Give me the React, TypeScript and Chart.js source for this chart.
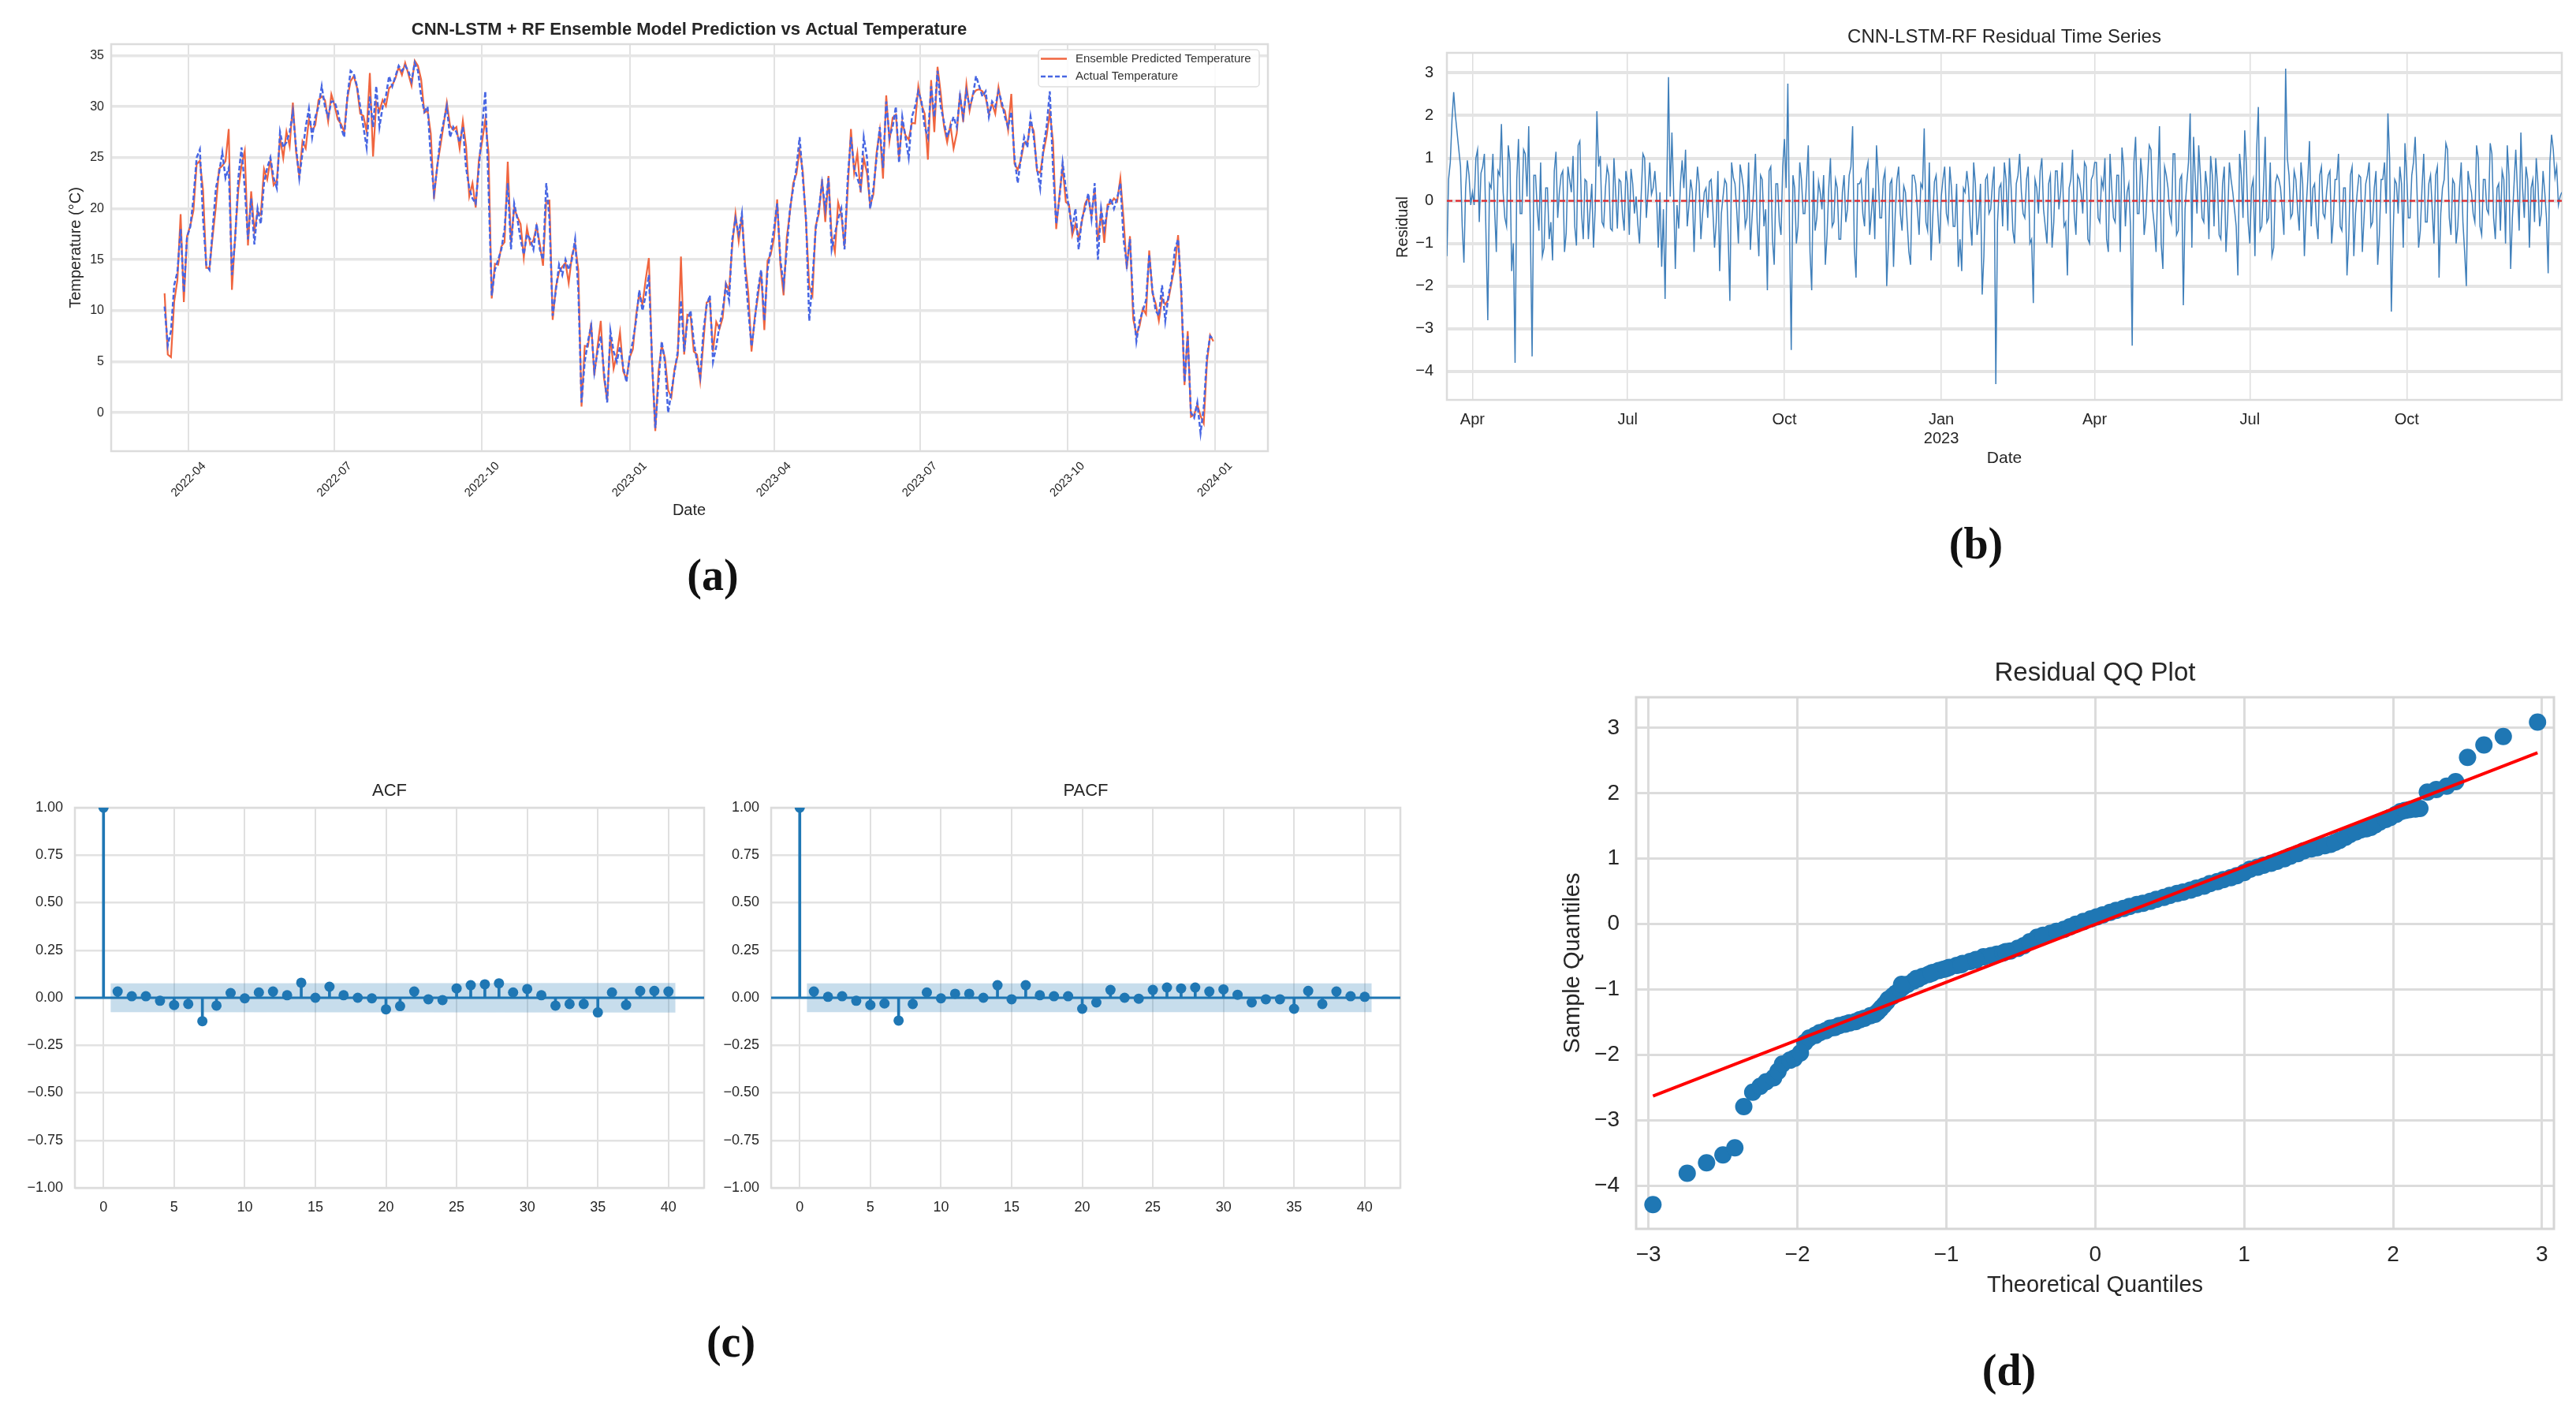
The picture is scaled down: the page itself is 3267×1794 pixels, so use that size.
import React, { useEffect, useRef } from "react";
import { Chart, registerables } from "chart.js";

Chart.register(...registerables);

const FONT = '"Liberation Sans", Arial, Helvetica, sans-serif';
const SERIF = '"Liberation Serif", "Times New Roman", serif';
const INK = "#262626";

// ---------------- (a) + (b): series on even days (counted from 2022-04-01; first = 2022-03-17) ----------------
const SERIES_START_DAY = -15;
const SERIES_STEP_DAYS = 2;

const actualTemperature = [
  10.4, 6.6, 8.0, 12.5, 13.8, 18.0, 11.8, 17.2,
  18.2, 21.0, 25.0, 25.8, 19.0, 14.5, 14.0, 18.0, 22.0, 23.5, 25.5, 23.0, 24.0, 13.5, 17.0,
  23.0, 26.0, 22.0, 17.0, 21.0, 16.5, 20.0, 18.5, 22.5, 24.0, 25.0, 23.0, 22.0, 27.5, 26.0,
  26.5, 27.5, 29.5, 26.0, 23.0, 25.5, 28.0, 29.8, 27.0, 29.0, 30.0, 32.0, 30.0, 29.0, 30.5,
  30.5, 29.5, 28.0, 27.0, 31.0, 33.5, 33.2, 32.0, 30.0, 28.0, 26.0, 31.0, 28.0, 32.0, 28.0, 30.0,
  31.0, 33.0, 32.0, 33.0, 34.0, 33.5, 34.0, 33.5, 32.5, 34.3, 33.5, 31.0, 29.5, 30.0, 25.0,
  21.5, 24.0, 27.0, 28.5, 30.0, 27.0, 28.0, 27.5, 26.5, 28.0, 24.0, 22.0, 21.0, 20.5, 24.0,
  28.0, 31.5, 22.0, 11.5, 14.0, 15.0, 16.0, 18.0, 22.5, 16.0, 20.5, 19.0, 17.0, 15.5, 17.5, 17.0,
  16.0, 18.5, 16.0, 15.0, 22.5, 19.0, 9.5, 12.0, 14.5, 13.5, 15.0, 14.0, 15.0, 17.0, 12.0,
  1.0, 5.0, 7.0, 8.5, 4.0, 6.0, 7.5, 4.0, 1.0, 8.0, 6.0, 5.0, 6.5, 4.5, 3.0, 5.5,
  7.0, 9.0, 12.0, 10.0, 11.5, 13.5, 5.0, -1.5, 3.0, 7.0, 5.0, 0.0, 2.0, 4.0, 6.0,
  11.0, 6.0, 9.0, 10.0, 7.0, 5.0, 3.5, 8.0, 10.5, 11.5, 5.0, 6.5, 8.5, 10.0,
  12.5, 11.0, 17.0, 19.0, 17.5, 19.5, 14.0, 10.0, 6.5, 9.0, 12.0, 14.0, 9.0, 14.0, 16.0,
  18.0, 20.5, 15.0, 12.5, 16.0, 20.0, 22.0, 24.0, 27.0, 23.0, 19.0, 9.0, 13.0, 18.0, 20.0,
  22.5, 20.0, 23.0, 16.0, 17.5, 19.0, 20.0, 16.0, 23.0, 27.0, 24.0, 23.0, 22.0, 27.0, 25.0,
  20.0, 22.0, 25.0, 28.0, 24.0, 30.5, 27.0, 28.0, 30.0, 24.5, 29.0, 27.0, 25.0, 29.0, 30.0,
  31.5, 30.5, 28.0, 27.0, 32.0, 29.0, 33.5, 30.0, 28.5, 27.0, 28.0, 29.0, 28.0, 31.0, 29.0, 31.5,
  30.0, 31.0, 33.0, 32.0, 31.0, 31.5, 29.0, 30.5, 30.0, 31.5, 30.5, 29.0, 28.0, 29.5, 25.0,
  22.5, 25.0, 27.0, 26.0, 29.0, 27.0, 24.0, 22.0, 26.0, 28.0, 31.5, 24.0, 18.5, 21.0, 24.5,
  22.0, 20.0, 18.0, 20.0, 16.0, 19.0, 20.0, 21.5, 19.0, 22.5, 15.0, 20.0, 18.0, 20.0, 21.0, 20.0,
  21.0, 22.5, 17.0, 14.5, 17.0, 10.5, 7.0, 9.0, 10.0, 11.0, 15.5, 12.0, 10.0, 9.5, 12.5,
  9.0, 11.5, 13.0, 16.0, 17.0, 12.0, 3.0, 7.5, 0.0, -0.5, 1.0, -2.0, 0.5, 5.5, 7.5, 7.2,
];

// residuals (actual - predicted) on the same even days
const residuals = [
  -1.3, 0.9, 2.55, 1.6, 0.8, -1.45, 0.95, -0.1,
  -0.1, 1.2, 0.65, 1.1, -2.8, 0.3, -0.2, 0.7, 1.8, -0.4, 1.3, -1.65, -3.8, 1.45, -0.3,
  1.1, 1.75, -3.65, 0.6, -0.7, -1.3, 0.3, -0.9, -1.4, 1.15, 0.2, 0.7, -0.75, 0.5, 1.05,
  -1.05, 1.4, -0.9, 0.45, -0.2, -1.1, 2.1, 1.05, -0.6, 0.8, -0.65, 1.0, -0.65, 0.45, -0.7,
  0.4, 0.75, -0.3, -0.55, 0.15, 1.0, 0.2, 0.15, 0.7, -1.1, -1.55, -2.3, 2.9, 1.6, -1.6, -0.65,
  0.95, 1.2, -0.1, 0.2, 0.1, 0.4, -0.3, 0.3, 0.45, -0.2, -0.5, -1.65, 0.1, 0.4, -2.35,
  0.55, -0.2, 0.85, 0.3, -0.4, -1.15, 0.3, -0.5, 0.6, -0.6, -2.1, 0.8, -1.5, 0.4, -0.8,
  1.45, 2.75, -3.5, 0.3, -0.6, 0.5, -0.3, 1.3, -2.1, -0.7, 0.45, -0.2, -1.5, 0.3, -0.6, 0.5,
  -0.9, 0.2, -0.5, 0.6, 1.75, -1.8, 0.4, -0.3, 0.7, -0.8, 0.3, 1.3, -0.4, 0.5, -2.0,
  0.4, -1.55, 0.5, -0.3, 0.35, -0.5, -1.5, 0.6, -0.2, 0.4, 1.7, -0.7, -1.4, 0.45, -0.3, 0.1,
  0.8, -0.5, 0.3, -0.6, -1.55, -1.65, 0.2, 0.3, -1.05, 0.4, -0.4, -2.2, 0.5, -0.3, 0.4,
  -4.3, 0.3, -0.6, 0.5, 1.0, -0.7, 0.4, 1.1, -0.3, 0.5, -1.0, -2.4, 0.3, 0.7,
  -0.2, -1.0, 0.6, -0.5, 0.7, 0.2, -0.6, -1.75, 0.5, -0.3, 0.6, 0.2, 0.9, -0.9, 0.5,
  0.9, -0.4, 0.5, 1.0, -1.2, 0.3, -0.5, 0.6, 1.25, -0.6, 0.4, -3.4, 1.5, -0.3, 0.5,
  -0.4, 1.3, -0.2, -1.2, 1.75, -1.6, 0.6, -0.3, 1.1, -0.8, 0.5, -2.45, 0.4, 2.05, 1.5,
  -0.3, 0.6, -0.5, 0.3, 1.05, -0.6, 0.4, -0.9, 0.8, -0.4, 0.5, -0.2, -1.75, 0.6, 1.65,
  -0.5, 0.3, -1.3, 2.2, -0.6, 1.5, -0.4, -1.3, 0.4, 0.5, -0.2, 3.1, 0.6, -0.3, 0.5, -0.7,
  0.4, -0.2, 1.4, 0.3, -0.5, 0.6, -0.3, 0.2, 0.7, -0.4, 0.5, -0.6, 0.3, -1.75, 0.6,
  -1.3, 0.2, 0.55, -0.4, 0.6, -0.6, 0.3, -1.5, 0.5, 0.9, 2.05, -2.6, 0.5, -0.3, 0.4,
  1.35, -0.4, 0.6, 1.5, -1.1, 0.3, -0.5, 0.4, -0.2, 0.6, -1.8, 0.3, 1.35, -0.4, 0.5, -1.0,
  0.3, -0.5, -2.0, 0.4, -0.3, 1.3, -0.6, 0.5, -0.2, 1.35, -0.4, 0.3, -0.7, 0.5, 1.3,
  -1.6, 0.4, 0.2, 1.6, -0.4, 0.5, 0.3, -0.5, 0.4, -0.3, 0.2, -1.7, 1.55, 0.55, -0.1, 0.2,
];

// residuals on the odd days in between (first = day -14, i.e. 2022-03-18)
const residualsOddDays = [
  0.5, 1.9, 2.0, 1.2, -0.6, 0.3, 0.6, 0.2, 1.0, -0.5, 0.8, -0.9, 0.4, 1.1, -1.2, 0.6,
  0.2, -0.6, 0.9, -1.0, 0.5, -0.3, 1.2, 0.1, -0.8, 0.6, -0.2, 0.9, -1.1, 0.3, -0.5, 0.7,
  -0.4, 0.6, -1.2, 0.8, 0.2, -0.6, 1.3, -0.3, 0.5, -0.9, 0.4, -0.2, 0.8, -0.5, 0.3, 0.6,
  -0.7, 0.2, 0.5, -0.3, 0.7, -0.8, 0.4, 0.1, -1.0, 1.1, -0.4, 0.9, 0.3, 0.1, 0.2, -0.2,
  0.3, 0.1, 0.2, -0.1, 0.4, 0.3, -0.6, 0.5, -1.2, 0.8, -0.9, 0.2, -0.4, 0.5, -1.1, 0.7,
  -0.3, 0.5, -0.8, 0.9, 0.4, -1.0, 0.6, -0.6, 0.9, -0.4, 1.1, -1.3, 0.5, -0.2, 0.7, -0.9,
  0.4, -0.5, 0.8, 0.3, -0.7, 0.6, -1.0, 0.9, -0.3, 0.5, -1.2, 0.7, -0.4, 0.2, 0.6, -0.8,
  1.0, -0.5, 0.3, -0.9, 0.6, -0.2, 0.8, -1.1, 0.4, 0.5, -0.6, 0.9, -0.3, -0.9, 0.6, -0.4,
  0.7, -1.0, 0.5, -0.3, 0.8, -0.7, 0.2, -1.2, 0.6, 0.4, -0.8, 0.3, -0.5, 0.9, -0.4, 0.6,
  -1.0, 0.5, -0.3, 0.8, -0.6, 0.4, -0.9, 0.3, 0.7, -0.5, 0.9, -0.8, 0.4, -1.3, 0.6, -0.2,
  0.8, -0.5, 0.4, 0.9, -0.7, 0.3, -1.0, 0.6, 0.2, -0.4, 0.8, -0.9, 0.5, -0.3, 1.0, -0.6,
  0.4, -1.1, 0.7, -0.2, 0.9, -0.5, 0.3, 1.2, -0.8, 0.5, -0.3, 0.8, -1.0, 0.6, 0.9, -0.5,
  0.3, -0.9, 1.1, -0.4, 0.6, -1.2, 0.8, 0.2, -0.6, 0.9, -0.3, 1.0, -0.8, 0.5, 1.2, -0.6,
  0.4, -1.0, 0.8, 0.3, -0.5, 1.1, -0.7, 0.6, -0.2, 0.9, -1.1, 0.5, 1.3, -0.4, 0.7, -0.9,
  0.6, 1.0, -0.8, 0.4, -1.2, 0.9, 0.2, -0.6, 1.1, -0.4, 0.8, -1.0, 0.5, 1.2, -0.7, 0.3,
  -0.5, 0.9, -1.1, 0.6, 0.3, -0.8, 1.0, -0.4, 0.7, -0.2, 0.9, -1.3, 0.5, -0.6, 0.4, -0.9,
  0.8, -0.4, 0.6, -1.0, 0.5, 1.1, -0.7, 0.3, -0.9, 0.8, -0.3, 0.6, -1.2, 0.4, 0.9, -0.5,
  0.7, -0.8, 0.5, -0.3, 1.0, -0.9, 0.4, 0.8, -1.1, 0.6, -0.4, 0.9, 0.3, -0.7, 1.1, -0.5,
  0.6, -1.0, 0.8, -0.3, 0.5, 1.2, -0.8, 0.4, -0.6, 0.9, -1.2, 0.7, 0.2, -0.5, 1.0, -0.8,
  0.5, -0.3, 1.1, -0.9, 0.4, 0.7, -1.0, 0.6, -0.4, 1.2, -0.7, 0.3, 0.8, -1.1, 0.5, 1.0,
  -0.6, 0.7, -0.4, 0.9, 1.2, 0.8, 0.1,
];

const tempTickDays = [0, 91, 183, 275, 365, 456, 548, 640];
const tempTickLabels = ["2022-04", "2022-07", "2022-10", "2023-01", "2023-04", "2023-07", "2023-10", "2024-01"];
const tempYTicks = [0, 5, 10, 15, 20, 25, 30, 35];

const residTickDays = [0, 91, 183, 275, 365, 456, 548];
const residTickLabels: (string | string[])[] = ["Apr", "Jul", "Oct", ["Jan", "2023"], "Apr", "Jul", "Oct"];
const residYTicks = [-4, -3, -2, -1, 0, 1, 2, 3];

// ---------------- (c) ACF / PACF ----------------
const lags = [0, 1, 2, 3, 4, 5, 6, 7, 8, 9, 10, 11, 12, 13, 14, 15, 16, 17, 18, 19, 20, 21, 22, 23, 24, 25, 26, 27, 28, 29, 30, 31, 32, 33, 34, 35, 36, 37, 38, 39, 40];
const acfValues = [
  1.0, 0.033, 0.008, 0.008, -0.016, -0.038, -0.033, -0.123, -0.041, 0.025, -0.003,
  0.028, 0.033, 0.013, 0.079, 0.0, 0.058, 0.013, 0.0, -0.003, -0.061,
  -0.044, 0.033, -0.008, -0.012, 0.049, 0.066, 0.071, 0.076, 0.028, 0.046,
  0.013, -0.041, -0.033, -0.033, -0.077, 0.028, -0.038, 0.036, 0.036, 0.033,
];
const pacfValues = [
  1.0, 0.033, 0.005, 0.008, -0.016, -0.038, -0.030, -0.120, -0.033, 0.028, -0.003,
  0.021, 0.021, 0.0, 0.066, -0.008, 0.066, 0.013, 0.008, 0.008, -0.058,
  -0.025, 0.041, 0.0, -0.005, 0.041, 0.054, 0.049, 0.054, 0.033, 0.044,
  0.016, -0.025, -0.008, -0.008, -0.058, 0.036, -0.033, 0.033, 0.008, 0.005,
];
const confLags = [0.5, 40.5];
const acfConfidence = [0.076, 0.078];
const pacfConfidence = [0.076, 0.076];
const corrXTicks = [0, 5, 10, 15, 20, 25, 30, 35, 40];
const corrYTicks = [-1, -0.75, -0.5, -0.25, 0, 0.25, 0.5, 0.75, 1];

// ---------------- (d) QQ plot ----------------
const qqTheoretical = [
  -2.97, -2.74, -2.61, -2.5, -2.42, -2.36, -2.3, -2.25, -2.21, -2.16, -2.13, -2.1, -2.05, -2.02, -1.98, -1.95,
  -1.92, -1.85, -1.78, -1.72, -1.65, -1.58, -1.51, -1.46, -1.42, -1.39, -1.34, -1.29, -1.22, -1.16, -1.09, -1.02,
  -0.93, -0.84, -0.75, -0.66, -0.57, -0.48, -0.39, -0.3, -0.21, -0.13, -0.03, 0.05, 0.14, 0.23, 0.32, 0.41,
  0.5, 0.59, 0.68, 0.77, 0.86, 0.95, 1.04, 1.13, 1.22, 1.31, 1.4, 1.49, 1.58, 1.64, 1.71, 1.78,
  1.85, 1.91, 1.98, 2.05, 2.11, 2.18, 2.23, 2.29, 2.36, 2.42, 2.5, 2.61, 2.74, 2.97,
  -1.88, -1.81, -1.75, -1.68, -1.61, -1.55, -1.48, -1.44, -1.4, -1.36, -1.31, -1.26, -1.19, -1.12, -1.05, -0.98,
  -0.89, -0.8, -0.7, -0.62, -0.52, -0.44, -0.35, -0.26, -0.17, -0.08, 0.01, 0.1, 0.19, 0.28, 0.37, 0.46,
  0.55, 0.64, 0.73, 0.82, 0.91, 1.0, 1.09, 1.18, 1.27, 1.36, 1.45, 1.54, 1.61, 1.68, 1.75, 1.82,
  1.88, 1.95, 2.02, 2.08, 2.15,
  -1.3, -1.2, -1.1, -1.0, -0.9, -0.8, -0.6,
];
const qqSample = [
  -4.29, -3.81, -3.65, -3.53, -3.42, -2.79, -2.57, -2.48, -2.41, -2.35, -2.25, -2.14, -2.08, -2.05, -1.97, -1.81,
  -1.74, -1.66, -1.59, -1.55, -1.51, -1.46, -1.4, -1.34, -1.24, -1.15, -1.06, -0.96, -0.87, -0.8, -0.74, -0.69,
  -0.63, -0.57, -0.5, -0.46, -0.41, -0.33, -0.2, -0.14, -0.08, 0.0, 0.08, 0.14, 0.21, 0.27, 0.32, 0.38,
  0.44, 0.49, 0.55, 0.62, 0.68, 0.74, 0.84, 0.9, 0.96, 1.04, 1.12, 1.17, 1.22, 1.28, 1.37, 1.44,
  1.48, 1.56, 1.63, 1.72, 1.75, 1.77, 2.02, 2.06, 2.11, 2.18, 2.55, 2.74, 2.87, 3.09,
  -1.7, -1.63, -1.58, -1.53, -1.49, -1.44, -1.38, -1.29, -1.19, -1.1, -1.0, -0.92, -0.84, -0.77, -0.71, -0.66,
  -0.6, -0.54, -0.48, -0.44, -0.37, -0.27, -0.17, -0.11, -0.04, 0.04, 0.11, 0.18, 0.24, 0.3, 0.35, 0.41,
  0.47, 0.52, 0.58, 0.65, 0.71, 0.79, 0.87, 0.93, 1.0, 1.08, 1.15, 1.2, 1.25, 1.33, 1.41, 1.46,
  1.52, 1.6, 1.68, 1.74, 1.76,
  -0.92, -0.83, -0.75, -0.68, -0.62, -0.55, -0.42,
];
const qqLineX = [-2.97, 2.97];
const qqLineY = [-2.63, 2.62];
const qqXTicks = [-3, -2, -1, 0, 1, 2, 3];
const qqYTicks = [-4, -3, -2, -1, 0, 1, 2, 3];

// ---------------- derived tables ----------------
const seriesDays = actualTemperature.map((_, i) => SERIES_START_DAY + i * SERIES_STEP_DAYS);
const predictedTemperature = actualTemperature.map((v, i) => Math.round((v - residuals[i]) * 100) / 100);
const dailyResiduals: { x: number; y: number }[] = [];
seriesDays.forEach((d, i) => {
  dailyResiduals.push({ x: d, y: residuals[i] });
  if (i < residualsOddDays.length) dailyResiduals.push({ x: d + 1, y: residualsOddDays[i] });
});

const minus = (s: string) => s.replace("-", "\u2212");

// ---------------- geometry (page pixels) ----------------
type Geom = { left: number; top: number; width: number; height: number; l: number; t: number; r: number; b: number };
const GA: Geom = { left: 50, top: 0, width: 1620, height: 720, l: 141, t: 56, r: 1608, b: 572 };
const GB: Geom = { left: 1740, top: 0, width: 1527, height: 620, l: 1835, t: 67, r: 3249, b: 507 };
const GC: Geom = { left: 0, top: 960, width: 910, height: 620, l: 95, t: 1024, r: 893, b: 1506 };
const GP: Geom = { left: 910, top: 960, width: 890, height: 620, l: 978, t: 1024, r: 1776, b: 1506 };
const GD: Geom = { left: 1940, top: 810, width: 1327, height: 850, l: 2075, t: 884, r: 3239, b: 1558 };

const layoutFor = (g: Geom) => ({ padding: { left: 0, top: g.t - g.top, right: g.left + g.width - g.r, bottom: 0 } });
const yFit = (g: Geom) => (s: any) => { s.width = g.l - g.left; };
const xFit = (g: Geom) => (s: any) => { s.height = g.top + g.height - g.b; };
const fixTicks = (vals: number[]) => (s: any) => { s.ticks = vals.map((v) => ({ value: v })); };

type TextItem = { text: string; x: number; y: number; size: number; weight?: string; rotate?: number; color?: string };

function overlay(g: Geom, texts: TextItem[], frame: { color: string; width: number }, extra?: { before?: (c: any) => void; after?: (c: any) => void }) {
  return {
    id: "overlay",
    beforeDatasetsDraw(chart: any) {
      const { ctx, chartArea: a } = chart;
      ctx.save();
      ctx.strokeStyle = frame.color;
      ctx.lineWidth = frame.width;
      ctx.strokeRect(a.left, a.top, a.right - a.left, a.bottom - a.top);
      ctx.restore();
      if (extra && extra.before) extra.before(chart);
    },
    afterDraw(chart: any) {
      if (extra && extra.after) extra.after(chart);
      const ctx = chart.ctx;
      for (const t of texts) {
        ctx.save();
        ctx.translate(t.x - g.left, t.y - g.top);
        if (t.rotate) ctx.rotate((t.rotate * Math.PI) / 180);
        ctx.font = `${t.weight || "normal"} ${t.size}px ${FONT}`;
        ctx.fillStyle = t.color || INK;
        ctx.textAlign = "center";
        ctx.textBaseline = "middle";
        ctx.fillText(t.text, 0, 0);
        ctx.restore();
      }
    },
  };
}

const baseOpts = (g: Geom) => ({
  animation: false as const,
  responsive: false,
  maintainAspectRatio: false,
  devicePixelRatio: 1,
  layout: layoutFor(g),
  events: [] as string[],
  plugins: { legend: { display: false }, tooltip: { enabled: false }, title: { display: false } },
});

// ---------------- (a) ----------------
function makeA() {
  const g = GA;
  return {
    type: "line",
    data: {
      datasets: [
        {
          label: "Ensemble Predicted Temperature",
          data: seriesDays.map((d, i) => ({ x: d, y: predictedTemperature[i] })),
          borderColor: "#f0653f",
          borderWidth: 2.2,
          pointRadius: 0,
          order: 2,
        },
        {
          label: "Actual Temperature",
          data: seriesDays.map((d, i) => ({ x: d, y: actualTemperature[i] })),
          borderColor: "#4766e3",
          borderWidth: 2.5,
          borderDash: [6, 3],
          pointRadius: 0,
          order: 1,
        },
      ],
    },
    options: {
      ...baseOpts(g),
      scales: {
        x: {
          type: "linear", bounds: "data", min: -48.3, max: 673,
          afterFit: xFit(g), afterBuildTicks: fixTicks(tempTickDays),
          ticks: { display: false },
          grid: { color: "#e2e2e2", lineWidth: 2, drawTicks: false },
          border: { display: false },
        },
        y: {
          type: "linear", bounds: "data", min: -3.77, max: 36.12,
          afterFit: yFit(g), afterBuildTicks: fixTicks(tempYTicks),
          ticks: { font: { family: FONT, size: 16 }, color: INK, padding: 9 },
          grid: { color: "#e6e6e6", lineWidth: 3.5, drawTicks: false },
          border: { display: false },
        },
      },
    },
    plugins: [
      overlay(
        g,
        [
          { text: "CNN-LSTM + RF Ensemble Model Prediction vs Actual Temperature", x: 874, y: 38, size: 22, weight: "bold" },
          { text: "Temperature (\u00B0C)", x: 96, y: 314, size: 20, rotate: -90 },
          { text: "Date", x: 874, y: 647, size: 20 },
        ],
        { color: "#dcdcdc", width: 2.5 },
        {
          after: (chart: any) => {
            const ctx = chart.ctx;
            const xs = chart.scales.x;
            const a = chart.chartArea;
            ctx.save();
            ctx.font = `15px ${FONT}`;
            ctx.fillStyle = INK;
            ctx.textAlign = "center";
            ctx.textBaseline = "middle";
            tempTickDays.forEach((d, i) => {
              ctx.save();
              ctx.translate(xs.getPixelForValue(d), a.bottom + 36);
              ctx.rotate(-Math.PI / 4);
              ctx.fillText(tempTickLabels[i], 0, 0);
              ctx.restore();
            });
            // legend (upper right, inside the axes)
            const bx = 1317 - g.left, by = 63 - g.top, bw = 280, bh = 47;
            ctx.fillStyle = "rgba(255,255,255,0.85)";
            ctx.strokeStyle = "#dedede";
            ctx.lineWidth = 1.5;
            ctx.beginPath();
            if (ctx.roundRect) ctx.roundRect(bx, by, bw, bh, 4); else ctx.rect(bx, by, bw, bh);
            ctx.fill();
            ctx.stroke();
            chart.data.datasets.forEach((ds: any, i: number) => {
              const y = by + 11.5 + i * 22.5;
              ctx.strokeStyle = ds.borderColor;
              ctx.lineWidth = 2.5;
              ctx.setLineDash(ds.borderDash || []);
              ctx.beginPath();
              ctx.moveTo(bx + 3, y);
              ctx.lineTo(bx + 36, y);
              ctx.stroke();
              ctx.setLineDash([]);
              ctx.fillStyle = "#333333";
              ctx.font = `15px ${FONT}`;
              ctx.textAlign = "left";
              ctx.fillText(ds.label, bx + 47, y);
            });
            ctx.restore();
          },
        }
      ),
    ],
  };
}

// ---------------- (b) ----------------
function makeB() {
  const g = GB;
  return {
    type: "line",
    data: {
      datasets: [
        {
          label: "Residual",
          data: dailyResiduals,
          borderColor: "#3f7fba",
          borderWidth: 1.5,
          pointRadius: 0,
        },
      ],
    },
    options: {
      ...baseOpts(g),
      scales: {
        x: {
          type: "linear", bounds: "data",
          min: seriesDays[0], max: seriesDays[seriesDays.length - 1],
          afterFit: xFit(g), afterBuildTicks: fixTicks(residTickDays),
          ticks: {
            font: { family: FONT, size: 20 }, color: INK, padding: 13,
            autoSkip: false, maxRotation: 0, minRotation: 0,
            callback: (_v: any, i: number) => residTickLabels[i],
          },
          grid: { color: "#dedede", lineWidth: 1.5, drawTicks: false },
          border: { display: false },
        },
        y: {
          type: "linear", bounds: "data", min: -4.67, max: 3.47,
          afterFit: yFit(g), afterBuildTicks: fixTicks(residYTicks),
          ticks: { font: { family: FONT, size: 20 }, color: INK, padding: 17, callback: (v: any) => minus(String(v)) },
          grid: { color: "#e4e4e4", lineWidth: 4, drawTicks: false },
          border: { display: false },
        },
      },
    },
    plugins: [
      overlay(
        g,
        [
          { text: "CNN-LSTM-RF Residual Time Series", x: 2542, y: 47, size: 24 },
          { text: "Residual", x: 1779, y: 288, size: 20, rotate: -90 },
          { text: "Date", x: 2542, y: 581, size: 21 },
        ],
        { color: "#dcdcdc", width: 2.5 },
        {
          after: (chart: any) => {
            const ctx = chart.ctx;
            const a = chart.chartArea;
            const y0 = chart.scales.y.getPixelForValue(0);
            ctx.save();
            ctx.strokeStyle = "#e3262b";
            ctx.lineWidth = 2.2;
            ctx.setLineDash([7, 4]);
            ctx.beginPath();
            ctx.moveTo(a.left, y0);
            ctx.lineTo(a.right, y0);
            ctx.stroke();
            ctx.restore();
          },
        }
      ),
    ],
  };
}

// ---------------- (c) ----------------
function makeCorr(g: Geom, title: string, values: number[], conf: number[]) {
  return () => ({
    type: "scatter",
    data: {
      datasets: [
        {
          type: "line",
          data: confLags.map((x, i) => ({ x, y: conf[i] })),
          borderWidth: 0, pointRadius: 0, showLine: true, fill: false, order: 5,
        },
        {
          type: "line",
          data: confLags.map((x, i) => ({ x, y: -conf[i] })),
          borderWidth: 0, pointRadius: 0, showLine: true,
          fill: "-1", backgroundColor: "rgba(31,119,180,0.25)", order: 4,
        },
        {
          type: "bar",
          data: lags.map((x, i) => ({ x, y: values[i] })),
          backgroundColor: "#1f77b4", barThickness: 3, order: 2,
        },
        {
          type: "scatter",
          data: lags.map((x, i) => ({ x, y: values[i] })),
          backgroundColor: "#1f77b4", borderWidth: 0, pointRadius: 6.5, order: 1,
        },
      ],
    },
    options: {
      ...baseOpts(g),
      scales: {
        x: {
          type: "linear", bounds: "data", offset: false, min: -2.025, max: 42.525,
          afterFit: xFit(g), afterBuildTicks: fixTicks(corrXTicks),
          ticks: { font: { family: FONT, size: 18 }, color: INK, padding: 14, maxRotation: 0, autoSkip: false },
          grid: { color: "#e0e0e0", lineWidth: 2, drawTicks: false, offset: false },
          border: { display: false },
        },
        y: {
          type: "linear", bounds: "data", min: -1, max: 1,
          afterFit: yFit(g), afterBuildTicks: fixTicks(corrYTicks),
          ticks: { font: { family: FONT, size: 18 }, color: INK, padding: 15, callback: (v: any) => minus(Number(v).toFixed(2)) },
          grid: { color: "#e2e2e2", lineWidth: 2.5, drawTicks: false },
          border: { display: false },
        },
      },
    },
    plugins: [
      overlay(
        g,
        [{ text: title, x: (g.l + g.r) / 2, y: 1003, size: 22 }],
        { color: "#dcdcdc", width: 2.5 },
        {
          before: (chart: any) => {
            const ctx = chart.ctx;
            const a = chart.chartArea;
            const y0 = chart.scales.y.getPixelForValue(0);
            ctx.save();
            ctx.strokeStyle = "#1f77b4";
            ctx.lineWidth = 3;
            ctx.beginPath();
            ctx.moveTo(a.left, y0);
            ctx.lineTo(a.right, y0);
            ctx.stroke();
            ctx.restore();
          },
        }
      ),
    ],
  });
}

// ---------------- (d) ----------------
function makeD() {
  const g = GD;
  return {
    type: "scatter",
    data: {
      datasets: [
        {
          type: "line",
          data: qqLineX.map((x, i) => ({ x, y: qqLineY[i] })),
          borderColor: "#ff0000", borderWidth: 4, pointRadius: 0, showLine: true, order: 0,
        },
        {
          type: "scatter",
          data: qqTheoretical.map((x, i) => ({ x, y: qqSample[i] })),
          backgroundColor: "#1f77b4", borderWidth: 0, pointRadius: 11, order: 1,
        },
      ],
    },
    options: {
      ...baseOpts(g),
      scales: {
        x: {
          type: "linear", bounds: "data", min: -3.083, max: 3.08,
          afterFit: xFit(g), afterBuildTicks: fixTicks(qqXTicks),
          ticks: { font: { family: FONT, size: 28 }, color: INK, padding: 16, maxRotation: 0, autoSkip: false, callback: (v: any) => minus(String(v)) },
          grid: { color: "#dcdcdc", lineWidth: 3, drawTicks: false },
          border: { display: false },
        },
        y: {
          type: "linear", bounds: "data", min: -4.66, max: 3.47,
          afterFit: yFit(g), afterBuildTicks: fixTicks(qqYTicks),
          ticks: { font: { family: FONT, size: 28 }, color: INK, padding: 21, callback: (v: any) => minus(String(v)) },
          grid: { color: "#dcdcdc", lineWidth: 3, drawTicks: false },
          border: { display: false },
        },
      },
    },
    plugins: [
      overlay(
        g,
        [
          { text: "Residual QQ Plot", x: 2657, y: 854, size: 33 },
          { text: "Theoretical Quantiles", x: 2657, y: 1630, size: 29 },
          { text: "Sample Quantiles", x: 1995, y: 1221, size: 29, rotate: -90 },
        ],
        { color: "#d6d6d6", width: 3 }
      ),
    ],
  };
}

function Panel({ g, make }: { g: Geom; make: () => any }) {
  const ref = useRef<HTMLCanvasElement | null>(null);
  useEffect(() => {
    const chart = new Chart(ref.current as HTMLCanvasElement, make());
    return () => chart.destroy();
  }, []);
  return (
    <canvas
      ref={ref}
      width={g.width}
      height={g.height}
      style={{ position: "absolute", left: g.left, top: g.top, width: g.width, height: g.height }}
    />
  );
}

function FigLabel({ text, x, y }: { text: string; x: number; y: number }) {
  return (
    <div
      style={{
        position: "absolute", left: x, top: y, transform: "translate(-50%, -50%)",
        fontFamily: SERIF, fontWeight: "bold", fontSize: 56, color: "#111", lineHeight: 1, whiteSpace: "nowrap",
      }}
    >
      {text}
    </div>
  );
}

export default function App() {
  return (
    <div style={{ position: "absolute", left: 0, top: 0, width: 3267, height: 1794, background: "#ffffff", overflow: "hidden" }}>
      <Panel g={GA} make={makeA} />
      <Panel g={GB} make={makeB} />
      <Panel g={GC} make={makeCorr(GC, "ACF", acfValues, acfConfidence)} />
      <Panel g={GP} make={makeCorr(GP, "PACF", pacfValues, pacfConfidence)} />
      <Panel g={GD} make={makeD} />
      <FigLabel text="(a)" x={904} y={729} />
      <FigLabel text="(b)" x={2506} y={689} />
      <FigLabel text="(c)" x={927} y={1701} />
      <FigLabel text="(d)" x={2548} y={1737} />
    </div>
  );
}
